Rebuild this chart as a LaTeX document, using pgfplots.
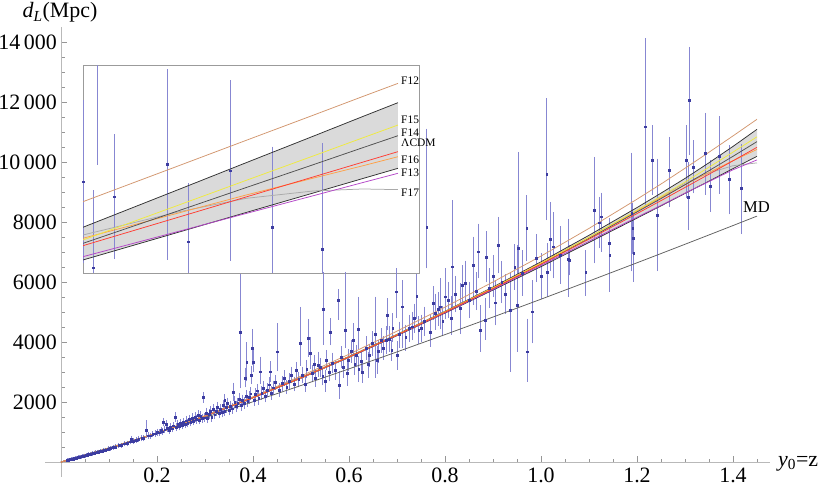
\documentclass[border=0pt]{standalone}
\usepackage{fontspec}
\setmainfont{Liberation Serif}
\usepackage{pgfplots}
\pgfplotsset{compat=1.18}
\usepackage{pgfplotstable}
\usepgfplotslibrary{fillbetween}

\definecolor{ptcol}{RGB}{60,60,160}
\definecolor{barcol}{RGB}{135,135,210}
\definecolor{lcdm}{RGB}{255,60,50}
\definecolor{ftwelve}{RGB}{210,150,110}
\definecolor{ffifteen}{RGB}{240,235,60}
\definecolor{ffourteen}{RGB}{80,80,80}
\definecolor{fsixteen}{RGB}{255,160,70}
\definecolor{fthirteen}{RGB}{180,70,200}
\definecolor{fseventeen}{RGB}{170,170,170}
\definecolor{bandline}{RGB}{50,50,50}
\definecolor{bandfill}{RGB}{218,218,218}
\definecolor{mdcol}{RGB}{95,95,95}
\definecolor{axgray}{RGB}{185,185,185}
\definecolor{tickgray}{RGB}{150,150,150}
\definecolor{insetgray}{RGB}{155,155,155}

\pgfplotstableread{
z lcdm f12 f15 f14 f16 f13 f17 up lo md
0 0 0 0 0 0 0 0 0 0 0
0.1 452 453 452 452 452 452 452 453 451 474
0.2 964 968 964 964 964 964 964 967 961 969
0.3 1532 1542 1533 1532 1532 1532 1532 1537 1527 1481
0.4 2147 2177 2148 2147 2148 2146 2147 2155 2139 2009
0.5 2806 2866 2808 2807 2809 2804 2807 2818 2794 2551
0.6 3503 3593 3506 3504 3509 3498 3505 3519 3487 3106
0.7 4234 4364 4239 4237 4246 4224 4238 4256 4212 3672
0.8 4995 5165 5005 5000 5015 4977 5005 5025 4965 4248
0.9 5784 6004 5802 5794 5814 5756 5802 5834 5734 4834
1.0 6596 6866 6626 6611 6641 6556 6626 6676 6516 5429
1.1 7430 7790 7490 7460 7490 7360 7490 7560 7320 6033
1.2 8284 8764 8394 8339 8369 8164 8394 8484 8134 6643
1.25 8716 9270 8856 8785 8816 8556 8850 8966 8541 6951
1.3 9156 9796 9336 9246 9246 8966 9300 9456 8956 7261
1.35 9597 10330 9830 9715 9657 9352 9640 9980 9366 7572
1.4 10044 10874 10334 10194 10049 9744 9880 10524 9784 7885
1.45 10494 11429 10844 10684 10424 10074 9975 11094 10194 8200
}\curves

\pgfplotstableread{
z lcdm f12 f15 f14 f16 f13 f17 up lo
1.300 9102 9781 9190 9138 9216 8932 9267 9386 8881
1.349 9546 10340 9733 9646 9610 9326 9627 9974 9314
1.383 9855 10729 10111 10000 9885 9600 9833 10384 9615
1.417 10163 11116 10487 10352 10144 9873 9946 10792 9915
1.442 10390 11403 10765 10613 10334 10075 9977 11094 10137
1.460 10553 11607 10964 10799 10475 10219 9967 11309 10296
}\insetcurves

\pgfplotstableread{
z d ep em
1.3002 10090 1234 1235
1.3075 12000 1600 1627
1.3052 8762 1173 1200
1.3159 9858 941 941
1.3428 10358 1439 1451
1.3535 9164 874 900
1.3747 10260 1373 1363
1.3962 9390 1215 1215
1.4216 9051 1605 1605
}\insetdata

\pgfplotstableread{
z d ep em
0.012 50 4 4
0.014 60 4 4
0.015 66 5 5
0.016 68 5 5
0.017 74 5 5
0.018 77 5 5
0.019 82 6 6
0.020 87 6 6
0.021 88 6 6
0.022 95 6 6
0.023 97 7 7
0.024 104 7 7
0.025 106 7 7
0.026 113 7 7
0.027 112 8 8
0.028 121 8 8
0.029 122 8 8
0.030 131 9 9
0.032 135 9 9
0.033 143 9 9
0.035 148 10 10
0.036 158 10 10
0.038 162 10 10
0.040 174 11 11
0.042 178 11 11
0.044 192 12 12
0.046 196 12 12
0.048 210 13 13
0.050 213 13 13
0.052 228 14 14
0.055 236 15 15
0.057 252 15 15
0.060 258 16 16
0.063 278 17 17
0.066 284 18 18
0.069 306 19 19
0.072 312 19 19
0.075 333 20 20
0.078 340 21 21
0.081 360 22 22
0.085 368 23 23
0.089 396 24 24
0.093 405 25 25
0.098 440 27 27
0.103 455 28 28
0.108 486 30 30
0.114 505 31 31
0.120 548 33 33
0.126 562 34 34
0.132 612 37 37
0.138 622 38 38
0.144 680 41 41
0.146 767 50 50
0.150 690 42 42
0.156 735 45 45
0.162 760 46 46
0.168 800 48 48
0.172 790 48 48
0.178 1067 276 200
0.181 880 53 53
0.186 875 53 53
0.191 930 56 56
0.196 945 57 57
0.200 990 60 60
0.204 975 60 60
0.208 1060 65 65
0.211 1010 62 62
0.213 1330 90 90
0.216 1080 70 70
0.219 1260 85 85
0.222 1120 70 70
0.225 1070 68 68
0.228 1160 75 75
0.231 1110 72 72
0.234 1210 78 78
0.2375 1500 110 100
0.240 1160 75 75
0.243 1250 82 82
0.246 1190 78 78
0.249 1300 85 85
0.252 1220 80 80
0.255 1330 90 90
0.258 1260 82 82
0.261 1380 95 95
0.264 1290 85 85
0.267 1420 95 95
0.270 1330 90 90
0.273 1470 100 100
0.276 1370 92 92
0.279 1500 105 105
0.282 1420 95 95
0.285 1560 110 110
0.288 1400 95 95
0.291 1540 105 105
0.294 1460 100 100
0.296 2150 130 120
0.299 1480 100 100
0.302 1640 110 110
0.305 1450 100 100
0.308 1600 110 110
0.311 1700 115 115
0.314 1500 100 100
0.317 1760 120 120
0.320 1580 105 105
0.323 1700 115 115
0.326 1830 125 125
0.329 1620 110 110
0.332 1760 120 120
0.335 1650 110 110
0.338 1900 130 130
0.341 2067 140 140
0.341 1700 115 115
0.344 1820 125 125
0.347 1960 135 135
0.350 1730 120 120
0.353 1860 130 130
0.356 1780 125 125
0.359 2340 250 250
0.362 2000 140 140
0.365 1850 130 130
0.368 1960 135 135
0.371 2100 150 150
0.373 4340 1890 1830
0.375 1900 135 135
0.378 2050 145 145
0.381 1960 140 140
0.383 2790 300 250
0.385 2200 155 155
0.387 3340 600 600
0.389 2020 140 140
0.392 2150 150 150
0.395 2280 160 160
0.397 2900 250 250
0.399 3790 600 500
0.400 3340 350 300
0.402 2060 145 145
0.405 2250 160 160
0.408 2380 170 170
0.412 2120 150 150
0.415 3010 450 350
0.418 2300 165 165
0.421 2470 175 175
0.425 2200 160 160
0.429 2400 170 170
0.433 2580 185 185
0.435 3010 300 280
0.438 2300 165 165
0.442 2480 180 180
0.446 2650 195 195
0.451 3680 900 600
0.455 2400 175 175
0.460 2620 195 195
0.465 2800 210 210
0.470 2500 185 185
0.475 2700 200 200
0.480 2900 220 220
0.485 2600 195 195
0.490 3050 235 235
0.495 2750 210 210
0.498 3960 1160 700
0.503 2900 225 225
0.508 2600 200 200
0.512 3100 250 250
0.515 4120 600 550
0.519 3620 500 450
0.523 2950 240 240
0.527 3250 270 270
0.530 2800 230 230
0.536 3230 400 350
0.540 3150 270 270
0.545 2850 240 240
0.546 5100 1190 1140
0.550 2700 300 300
0.552 3400 290 290
0.558 3000 260 260
0.560 4340 400 400
0.565 3300 290 290
0.572 3050 270 270
0.578 5400 300 600
0.579 2570 400 400
0.583 3500 310 310
0.588 3150 280 280
0.592 4400 1890 550
0.596 2950 350 350
0.598 3400 300 300
0.604 3700 330 330
0.609 4070 500 450
0.612 3250 290 290
0.615 3550 310 310
0.619 4420 1030 600
0.620 3100 380 380
0.625 3350 300 300
0.628 3000 350 300
0.635 3800 340 340
0.640 3250 380 380
0.642 3550 320 320
0.648 3950 350 350
0.654 4260 1200 1400
0.658 3400 400 400
0.660 3700 330 330
0.667 4050 360 360
0.672 3800 340 340
0.678 4070 400 400
0.679 4900 500 450
0.684 4100 370 370
0.689 3730 300 300
0.691 4460 450 400
0.698 5680 720 830
0.700 3550 420 420
0.705 4250 380 380
0.711 5180 830 1330
0.718 4150 380 380
0.725 4450 400 400
0.731 4510 450 400
0.736 4800 430 430
0.741 5530 700 700
0.745 4400 400 400
0.751 4460 400 400
0.757 4700 430 430
0.762 7830 3230 1320
0.769 4340 500 450
0.775 5300 500 500
0.779 4960 600 500
0.785 5100 500 500
0.790 5180 900 700
0.795 4700 450 450
0.800 5510 900 700
0.807 5400 550 550
0.8125 4790 700 500
0.815 6510 2170 1330
0.822 5600 550 550
0.831 5120 800 800
0.836 5900 600 600
0.842 5960 700 600
0.850 5400 550 550
0.859 6570 890 1280
0.865 5700 580 580
0.869 7010 890 830
0.873 4400 780 670
0.883 4730 700 600
0.885 6840 800 800
0.892 5800 600 600
0.900 6200 650 650
0.904 5310 700 700
0.911 7230 890 890
0.918 6000 650 650
0.925 5600 600 600
0.935 5070 1220 2000
0.945 6500 700 700
0.951 5230 1940 1500
0.953 7120 3170 900
0.960 6300 700 700
0.970 7790 1050 1050
0.971 3680 1050 950
0.981 5010 1000 1000
0.990 6800 750 750
1.000 6200 700 700
1.012 9590 2480 1470
1.013 6340 900 800
1.019 7420 1200 1000
1.026 7180 1100 1000
1.040 6900 900 900
1.057 6760 1300 1200
1.059 6730 450 450
1.093 6320 690 730
1.111 8400 1720 1720
1.121 7980 810 800
1.125 8180 750 1110
1.142 7290 780 1100
1.143 6900 1170 1170
1.189 8310 1950 1900
1.191 7790 800 800
1.192 7460 800 800
1.193 6960 900 900
1.217 11180 2890 2610
1.232 10070 1110 1110
1.242 8230 1830 1810
1.267 9730 1060 1170
1.302 10070 1110 1220
1.307 8840 1110 1050
1.309 12070 1720 1780
1.317 9840 830 830
1.342 10290 1300 1330
1.352 9210 800 810
1.371 10200 1270 1200
1.392 9420 1090 1110
1.417 9120 1440 1470
}\maindata

\pgfplotsset{
  snstyle/.style={ptcol, only marks, mark=square*, mark size=0.9bp,
    mark options={draw=none, fill=ptcol},
    error bars/.cd, y dir=both, y explicit,
    error bar style={draw=barcol, line width=0.6bp},
    error mark options={draw=barcol, line width=0.6bp, mark size=1.6bp}},
  crv/.style={line width=0.75bp, no marks},
}

\begin{document}
\begin{tikzpicture}
\begin{axis}[
  at={(45.16bp,10.3bp)}, anchor=south west,
  x=480bp, y=0.03bp,
  xmin=-0.033, xmax=1.477, ymin=-490, ymax=14510,
  scaled x ticks=false, scaled y ticks=false,
  axis lines=middle,
  axis line style={draw=axgray, line width=0.9bp, -},
  every inner x axis line/.append style={-},
  every inner y axis line/.append style={-},
  xtick={0.2,0.4,0.6,0.8,1.0,1.2,1.4},
  xticklabels={0.2,0.4,0.6,0.8,1.0,1.2,1.4},
  ytick={2000,4000,6000,8000,10000,12000,14000},
  yticklabels={2000,4000,6000,8000,10\,000,12\,000,14\,000},
  minor xtick={0.05,0.1,0.15,0.25,0.3,0.35,0.45,0.5,0.55,0.65,0.7,0.75,0.85,0.9,0.95,1.05,1.1,1.15,1.25,1.3,1.35,1.45},
  minor ytick={500,1000,1500,2500,3000,3500,4500,5000,5500,6500,7000,7500,8500,9000,9500,10500,11000,11500,12500,13000,13500},
  tick align=inside,
  major tick length=6bp, minor tick length=3.5bp,
  tick style={draw=tickgray, line width=0.6bp},
  tick label style={font=\fontsize{22}{26}\selectfont, inner sep=0pt},
  xticklabel style={anchor=north, yshift=-6bp},
  yticklabel style={anchor=east, xshift=-4bp},
]
\addplot[draw=none, name path=mup] table[x=z, y=up] {\curves};
\addplot[draw=none, name path=mlo] table[x=z, y=lo] {\curves};
\addplot[bandfill] fill between[of=mup and mlo];
\addplot[snstyle] table[x=z, y=d, y error plus=ep, y error minus=em] {\maindata};
\addplot[crv, mdcol] table[x=z, y=md] {\curves};
\addplot[crv, bandline] table[x=z, y=up] {\curves};
\addplot[crv, bandline] table[x=z, y=lo] {\curves};
\addplot[crv, fseventeen] table[x=z, y=f17] {\curves};
\addplot[crv, fthirteen] table[x=z, y=f13] {\curves};
\addplot[crv, fsixteen] table[x=z, y=f16] {\curves};
\addplot[crv, ffourteen] table[x=z, y=f14] {\curves};
\addplot[crv, ffifteen] table[x=z, y=f15] {\curves};
\addplot[crv, lcdm] table[x=z, y=lcdm] {\curves};
\addplot[crv, ftwelve] table[x=z, y=f12] {\curves};
\end{axis}

\begin{axis}[
  at={(83bp,214bp)}, anchor=south west,
  width=336bp, height=207.3bp, scale only axis,
  xmin=1.30, xmax=1.4707, ymin=8680, ymax=11880,
  scaled x ticks=false, scaled y ticks=false,
  axis background/.style={fill=white},
  axis line style={draw=insetgray, line width=0.7bp},
  xtick=\empty, ytick=\empty,
]
\addplot[draw=none, name path=iup] table[x=z, y=up] {\insetcurves};
\addplot[draw=none, name path=ilo] table[x=z, y=lo] {\insetcurves};
\addplot[bandfill] fill between[of=iup and ilo];
\addplot[snstyle] table[x=z, y=d, y error plus=ep, y error minus=em] {\insetdata};
\addplot[crv, bandline] table[x=z, y=up] {\insetcurves};
\addplot[crv, bandline] table[x=z, y=lo] {\insetcurves};
\addplot[crv, fseventeen] table[x=z, y=f17] {\insetcurves};
\addplot[crv, fthirteen] table[x=z, y=f13] {\insetcurves};
\addplot[crv, fsixteen] table[x=z, y=f16] {\insetcurves};
\addplot[crv, ffourteen] table[x=z, y=f14] {\insetcurves};
\addplot[crv, ffifteen] table[x=z, y=f15] {\insetcurves};
\addplot[crv, lcdm] table[x=z, y=lcdm] {\insetcurves};
\addplot[crv, ftwelve] table[x=z, y=f12] {\insetcurves};
\end{axis}

\begin{scope}[every node/.style={anchor=base west, inner sep=0pt, font=\fontsize{11.5}{13}\selectfont}]
\node at (401bp,402bp) {F12};
\node at (401bp,363.7bp) {F15};
\node at (401bp,350.3bp) {F14};
\node at (401bp,340.3bp) {ΛCDM};
\node at (401bp,323.7bp) {F16};
\node at (401bp,310.3bp) {F13};
\node at (401bp,290.3bp) {F17};
\end{scope}
\node[anchor=base west, inner sep=0pt, font=\fontsize{16.6}{19}\selectfont] at (743bp,274.3bp) {MD};
\node[anchor=base, inner sep=0pt, font=\fontsize{22}{26}\selectfont] at (60bp,469bp) {\textit{d}\textsubscript{\textit{L}}(Mpc)};
\node[anchor=base west, inner sep=0pt, font=\fontsize{22}{26}\selectfont] at (778bp,21bp) {\textit{y}\textsubscript{0}=z};

\pgfresetboundingbox
\useasboundingbox (0,0) rectangle (822bp,487bp);
\end{tikzpicture}
\end{document}
